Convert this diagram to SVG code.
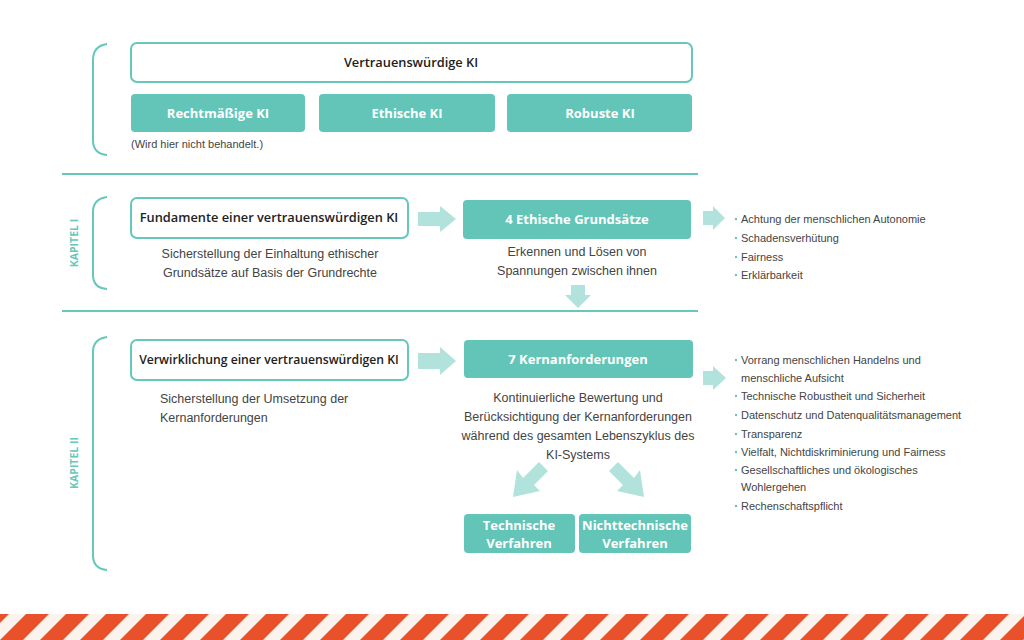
<svg xmlns="http://www.w3.org/2000/svg" width="1024" height="640" viewBox="0 0 1024 640">
<defs>
<style>
.ob{fill:#fff;stroke:#66c7ba;stroke-width:2}
.tb{fill:#62c5b8}
.lbw{font-family:"Open Sans","Liberation Sans",sans-serif;font-weight:bold;font-size:13px;fill:#fff;text-anchor:middle}
.lbd{font-family:"Open Sans","Liberation Sans",sans-serif;font-weight:600;font-size:12.8px;fill:#222;text-anchor:middle}
.body{font-family:"Liberation Sans",Arial,sans-serif;font-size:12.5px;fill:#444}
.li{font-family:"Liberation Sans",Arial,sans-serif;font-size:11px;fill:#444}
.dot{fill:#66c7ba}
.br{fill:none;stroke:#66c7ba;stroke-width:2}
.sep{stroke:#66c7ba;stroke-width:2}
.kap{font-family:"Open Sans","Liberation Sans",sans-serif;font-weight:bold;font-size:10.5px;fill:#66c7ba;text-anchor:middle}
.ar{fill:#b1e3dc}
</style>
<pattern id="stripes" patternUnits="userSpaceOnUse" x="0" y="614" width="40" height="26">
<rect width="40" height="26" fill="#fbf3ee"/>
<polygon points="0,26 23,26 49,0 26,0" fill="#e8512a"/>
<polygon points="-40,26 -17,26 9,0 -14,0" fill="#e8512a"/>
</pattern>
</defs>
<rect width="1024" height="640" fill="#fff"/>

<g id="brackets">
<path class="br" d="M107,44 Q93,46 93,60 L93,140 Q93,154 107,155"/>
<path class="br" d="M107,197 Q93,199 93,212 L93,275 Q93,288 107,289"/>
<path class="br" d="M107,337 Q93,339 93,352 L93,555 Q93,569 107,570"/>
<line class="sep" x1="62" y1="174" x2="698" y2="174"/>
<line class="sep" x1="62" y1="311" x2="698" y2="311"/>
<text class="kap" transform="translate(78,243) rotate(-90)">KAPITEL I</text>
<text class="kap" transform="translate(78,463) rotate(-90)">KAPITEL II</text>
</g>

<g id="n-vertrauen">
<rect class="ob" x="131" y="43" width="561" height="39" rx="6"/>
<text class="lbd" x="411" y="67">Vertrauenswürdige KI</text>
</g>
<g id="n-recht">
<rect class="tb" x="131" y="94" width="174" height="38" rx="4"/>
<text class="lbw" x="218" y="118">Rechtmäßige KI</text>
</g>
<g id="n-ethisch">
<rect class="tb" x="319" y="94" width="176" height="38" rx="4"/>
<text class="lbw" x="407" y="118">Ethische KI</text>
</g>
<g id="n-robust">
<rect class="tb" x="507" y="94" width="185" height="38" rx="4"/>
<text class="lbw" x="600" y="118">Robuste KI</text>
</g>
<text class="li" x="131" y="148">(Wird hier nicht behandelt.)</text>

<g id="n-fundamente">
<rect class="ob" x="131" y="198" width="277" height="40" rx="6"/>
<text class="lbd" x="269" y="222">Fundamente einer vertrauenswürdigen KI</text>
<text class="body" x="270" y="258" text-anchor="middle">Sicherstellung der Einhaltung ethischer</text>
<text class="body" x="270" y="277" text-anchor="middle">Grundsätze auf Basis der Grundrechte</text>
</g>
<g id="n-grundsaetze">
<rect class="tb" x="463" y="200" width="228" height="39" rx="4"/>
<text class="lbw" x="577" y="224">4 Ethische Grundsätze</text>
<text class="body" x="577" y="256" text-anchor="middle">Erkennen und Lösen von</text>
<text class="body" x="577" y="275" text-anchor="middle">Spannungen zwischen ihnen</text>
</g>
<g id="n-list1">
<circle class="dot" cx="736" cy="219" r="1.2"/><text class="li" x="741" y="223">Achtung der menschlichen Autonomie</text>
<circle class="dot" cx="736" cy="238" r="1.2"/><text class="li" x="741" y="242">Schadensverhütung</text>
<circle class="dot" cx="736" cy="257" r="1.2"/><text class="li" x="741" y="261">Fairness</text>
<circle class="dot" cx="736" cy="275" r="1.2"/><text class="li" x="741" y="279">Erklärbarkeit</text>
</g>

<g id="n-verwirklichung">
<rect class="ob" x="131" y="340" width="277" height="40" rx="6"/>
<text class="lbd" x="269" y="364" style="font-size:12.2px">Verwirklichung einer vertrauenswürdigen KI</text>
<text class="body" x="160" y="403">Sicherstellung der Umsetzung der</text>
<text class="body" x="160" y="422">Kernanforderungen</text>
</g>
<g id="n-kern">
<rect class="tb" x="464" y="340" width="229" height="38" rx="4"/>
<text class="lbw" x="578" y="364">7 Kernanforderungen</text>
<text class="body" x="578" y="402" text-anchor="middle">Kontinuierliche Bewertung und</text>
<text class="body" x="578" y="421" text-anchor="middle">Berücksichtigung der Kernanforderungen</text>
<text class="body" x="578" y="440" text-anchor="middle">während des gesamten Lebenszyklus des</text>
<text class="body" x="578" y="459" text-anchor="middle">KI-Systems</text>
</g>
<g id="n-list2">
<circle class="dot" cx="736" cy="360" r="1.2"/><text class="li" x="741" y="364">Vorrang menschlichen Handelns und</text>
<text class="li" x="741" y="382">menschliche Aufsicht</text>
<circle class="dot" cx="736" cy="396" r="1.2"/><text class="li" x="741" y="400">Technische Robustheit und Sicherheit</text>
<circle class="dot" cx="736" cy="415" r="1.2"/><text class="li" x="741" y="419">Datenschutz und Datenqualitätsmanagement</text>
<circle class="dot" cx="736" cy="434" r="1.2"/><text class="li" x="741" y="438">Transparenz</text>
<circle class="dot" cx="736" cy="452" r="1.2"/><text class="li" x="741" y="456">Vielfalt, Nichtdiskriminierung und Fairness</text>
<circle class="dot" cx="736" cy="470" r="1.2"/><text class="li" x="741" y="474">Gesellschaftliches und ökologisches</text>
<text class="li" x="741" y="491">Wohlergehen</text>
<circle class="dot" cx="736" cy="506" r="1.2"/><text class="li" x="741" y="510">Rechenschaftspflicht</text>
</g>

<g id="n-technisch">
<rect class="tb" x="464" y="514" width="111" height="39" rx="4"/>
<text class="lbw" x="519" y="530">Technische</text>
<text class="lbw" x="519" y="548">Verfahren</text>
</g>
<g id="n-nichttechnisch">
<rect class="tb" x="579" y="514" width="112" height="39" rx="4"/>
<text class="lbw" x="635" y="530">Nichttechnische</text>
<text class="lbw" x="635" y="548">Verfahren</text>
</g>

<g id="connectors">
<polygon class="ar" points="418,212 440,212 440,206 456,219 440,232 440,226 418,226"/>
<polygon class="ar" points="418,353 440,353 440,347 456,361 440,375 440,369 418,369"/>
<polygon class="ar" points="703,211 713,211 713,206 725,218 713,230 713,225 703,225"/>
<polygon class="ar" points="703,371 713,371 713,366 726,378 713,390 713,385 703,385"/>
<polygon class="ar" points="571,285 585,285 585,295 591,295 578,308 565,295 571,295"/>
<polygon class="ar" points="539,462 548,471 534,485 540,491 513,497 517,470 523,478"/>
<polygon class="ar" points="618,462 609,471 623,485 617,491 644,497 640,470 634,478"/>
</g>

<rect x="0" y="614" width="1024" height="26" fill="url(#stripes)"/>
</svg>
